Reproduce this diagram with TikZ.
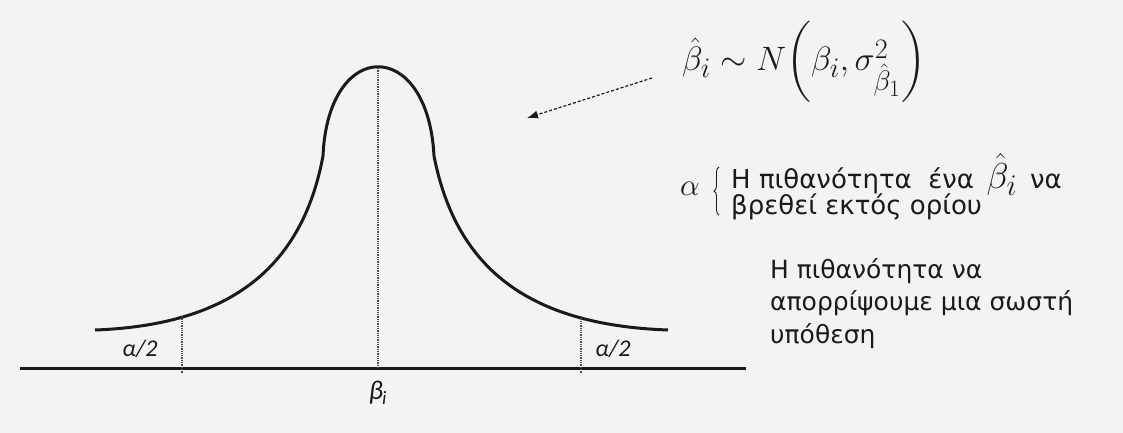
\documentclass[tikz,border=0pt]{standalone}
\usepackage{graphicx}
\usepackage{fontspec}
\usepackage{amsmath}
\setmainfont{DejaVu Sans}
\newfontfamily\calib{Carlito}
\usetikzlibrary{arrows.meta,decorations.pathreplacing}
\definecolor{bg}{HTML}{F3F3F3}
\definecolor{ink}{HTML}{1A1A1A}
\newcommand{\bigmath}[2]{\scalebox{#1}{\fontsize{24.88}{30}\selectfont $#2$}}
\tikzset{
  curveline/.style={line width=3pt, ink},
  axisline/.style={line width=3pt, ink},
  dotline/.style={line width=1.3pt, densely dotted, black!70},
  lbl/.style={font=\fontsize{24}{26}\selectfont\calib\itshape, ink, inner sep=0pt},
  gtext/.style={font=\fontsize{25}{32.5}\selectfont, ink, align=left, inner sep=0pt},
  pointer/.style={line width=1.2pt, densely dashed, ink, -{Latex[length=11pt,width=8pt]}},
  bracestyle/.style={line width=0.9pt, ink, decorate, decoration={brace, amplitude=5pt}}
}
\begin{document}
\begin{tikzpicture}[x=1pt,y=-1pt]
\fill[bg] (0,0) rectangle (1123,433);
\useasboundingbox (0,0) rectangle (1123,433);
% axis
\coordinate (axL) at (20,368);
\coordinate (axR) at (746,368);
\draw[axisline] (axL) -- (axR);
% curve
\coordinate (tL) at (95,330);
\coordinate (jL) at (323,156);
\coordinate (jR) at (434,156);
\coordinate (tR) at (668,330);
\coordinate (pk) at (378,68);
\draw[curveline] (tL) .. controls (230,325) and (302,268) .. (jL)
  .. controls (328,37) and (428,37) .. (jR)
  .. controls (456,268) and (528,325) .. (tR);
% dotted lines
\coordinate (dL1) at (182,316);
\coordinate (dL2) at (182,373);
\coordinate (dR1) at (581,316);
\coordinate (dR2) at (581,373);
\coordinate (dC2) at (378,368);
\draw[dotline] (dL1) -- (dL2);
\draw[dotline] (dR1) -- (dR2);
\draw[dotline] (pk) -- (dC2);
% labels
\node[lbl] (aL) at (140,349) {α/2};
\node[lbl] (aR) at (613,349) {α/2};
\node[lbl, font=\fontsize{27}{29}\selectfont\calib\itshape] (bi) at (378,393) {β\textsubscript{\kern-1pt i}};
% formula
\node[ink, inner sep=0pt, anchor=west] (form) at (682,62) {\bigmath{1.36}{\hat{\beta}_i \sim N\!\left(\beta_i, \sigma^2_{\hat{\beta}_1}\right)}};
\coordinate (arS) at (652,78);
\coordinate (arE) at (527,118);
\draw[pointer] (arS) -- (arE);
% alpha brace text
\node[ink, inner sep=0pt] (alpha) at (690,189) {\bigmath{1.25}{\alpha}};
\coordinate (brB) at (719,215);
\coordinate (brT) at (719,167);
\draw[bracestyle] (brB) -- (brT);
\node[gtext, font=\fontsize{26}{27}\selectfont, anchor=west] (t1) at (731,187) {Η πιθανότητα \ ένα\, \bigmath{1.45}{\hat{\beta}_i}\, να\\[-3pt] βρεθεί εκτός ορίου};
\node[gtext, anchor=north west] (t2) at (770,258) {Η πιθανότητα να\\ απορρίψουμε μια σωστή\\ υπόθεση};
\end{tikzpicture}
\end{document}
